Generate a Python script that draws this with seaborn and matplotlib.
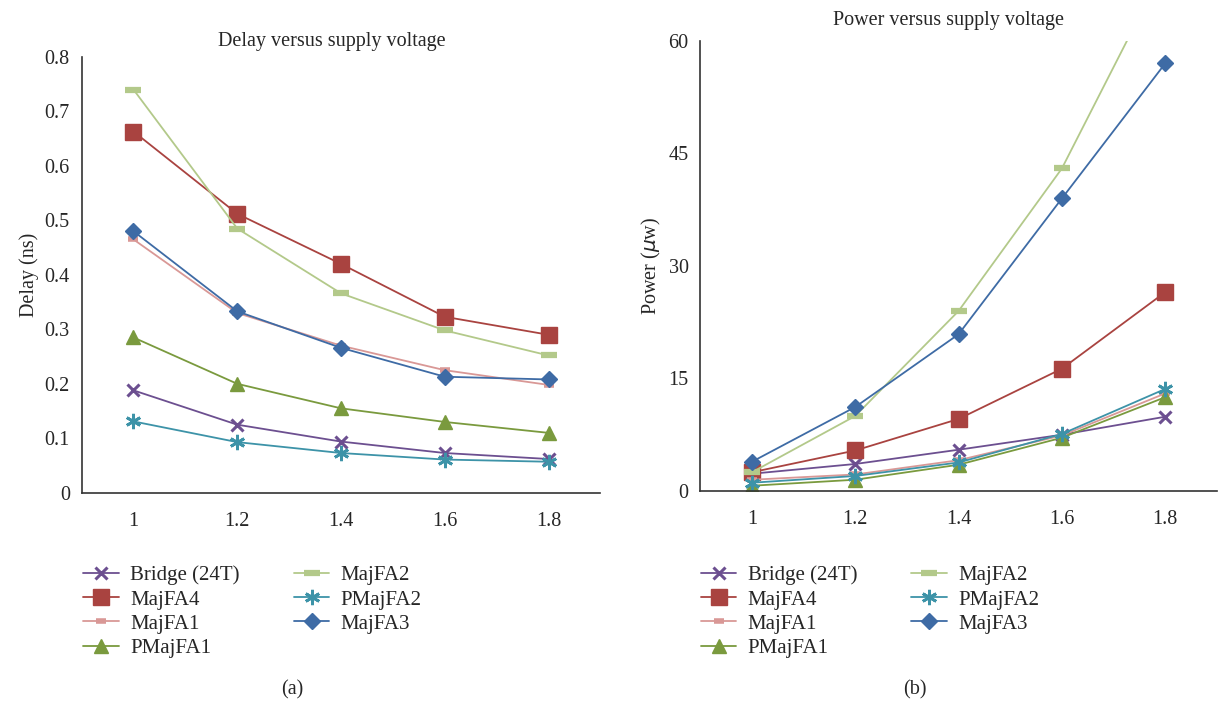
import numpy as np
import pandas as pd
import seaborn as sns
import matplotlib.pyplot as plt

voltages = ["1", "1.2", "1.4", "1.6", "1.8"]
series = ["Bridge (24T)", "MajFA4", "MajFA1", "PMajFA1", "MajFA2", "PMajFA2", "MajFA3"]

delay_bridge = [0.188, 0.125, 0.094, 0.073, 0.062]
delay_majfa4 = [0.663, 0.512, 0.420, 0.323, 0.290]
delay_majfa1 = [0.465, 0.330, 0.270, 0.225, 0.198]
delay_pmajfa1 = [0.285, 0.200, 0.155, 0.130, 0.110]
delay_majfa2 = [0.740, 0.485, 0.366, 0.298, 0.252]
delay_pmajfa2 = [0.131, 0.093, 0.073, 0.061, 0.057]
delay_majfa3 = [0.480, 0.333, 0.266, 0.213, 0.208]

power_bridge = [2.3, 3.6, 5.5, 7.5, 9.9]
power_majfa4 = [2.5, 5.4, 9.6, 16.3, 26.5]
power_majfa1 = [1.5, 2.2, 4.1, 7.4, 13.0]
power_pmajfa1 = [0.7, 1.5, 3.5, 7.1, 12.5]
power_majfa2 = [2.5, 10.0, 24.0, 43.0, 70.0]
power_pmajfa2 = [1.1, 2.0, 3.8, 7.6, 13.6]
power_majfa3 = [3.9, 11.2, 20.9, 39.0, 57.0]

colors = ["#6C4F90", "#A94340", "#D99896", "#7A9A3E", "#B3C98A", "#3D93A8", "#3E6BA5"]
markers = ["x", "s", "_", "^", "_", (6, 2, 0), "D"]
msizes = [9, 11, 7, 10, 11, 11, 8]
mews = [2.2, 1, 4, 1, 4.5, 2.0, 1]

sns.set_style("white")
plt.rcParams["font.family"] = ["Liberation Serif", "DejaVu Serif"]
FS = 14.5


def long_df(cols):
    rows = []
    for name, vals in zip(series, cols):
        for i, v in enumerate(vals):
            rows.append({"pos": i, "value": v, "series": name})
    return pd.DataFrame(rows)


delay = long_df([delay_bridge, delay_majfa4, delay_majfa1, delay_pmajfa1,
                 delay_majfa2, delay_pmajfa2, delay_majfa3])
power = long_df([power_bridge, power_majfa4, power_majfa1, power_pmajfa1,
                 power_majfa2, power_pmajfa2, power_majfa3])

fig = plt.figure(figsize=(12.18, 7.02), dpi=100)
ax1 = fig.add_axes([0.067, 0.298, 0.426, 0.621])
ax2 = fig.add_axes([0.575, 0.3006, 0.424, 0.641])


def draw(ax, df, ylim, yticks, ylabel, title, title_x, title_y):
    for name, c, m, ms, mew in zip(series, colors, markers, msizes, mews):
        sub = df[df["series"] == name]
        sns.lineplot(data=sub, x="pos", y="value", ax=ax, color=c, marker=m,
                     markersize=ms, markeredgewidth=mew, markeredgecolor=c,
                     linewidth=1.3, label=name)
    ax.set_xlim(-0.5, 4.5)
    ax.set_ylim(*ylim)
    ax.set_yticks(yticks)
    ax.set_xticks(range(5))
    ax.set_xticklabels(voltages)
    ax.set_xticks(np.arange(-0.5, 4.6, 1), minor=True)
    ax.tick_params(axis="x", which="major", length=0, labelsize=FS, pad=14)
    ax.tick_params(axis="x", which="minor", length=6, width=1, direction="out", color="#333333")
    ax.tick_params(axis="y", length=5, width=1, direction="out", labelsize=FS, color="#333333")
    ax.set_xlabel("")
    ax.set_ylabel(ylabel, fontsize=FS)
    for s in ["top", "right"]:
        ax.spines[s].set_visible(False)
    for s in ["left", "bottom"]:
        ax.spines[s].set_color("#333333")
        ax.spines[s].set_linewidth(1.2)
    ax.legend_.remove()
    ax.text(title_x, title_y, title, transform=ax.transAxes, ha="center", fontsize=FS)


draw(ax1, delay, (0, 0.8), np.arange(0, 0.81, 0.1), "Delay (ns)",
     "Delay versus supply voltage", 0.483, 1.025)
ax1.set_yticklabels(["0"] + [f"{v:.1f}" for v in np.arange(0.1, 0.81, 0.1)])
draw(ax2, power, (0, 60), [0, 15, 30, 45, 60], r"Power ($\mu$w)",
     "Power versus supply voltage", 0.48, 1.035)

for ax, x0 in [(ax1, 0.053), (ax2, 0.560)]:
    h, l = ax.get_legend_handles_labels()
    fig.legend(h, l, loc="upper left", bbox_to_anchor=(x0, 0.221), ncol=2,
               frameon=False, fontsize=FS + 0.5, handlelength=1.7, columnspacing=2.6,
               labelspacing=0.22, handletextpad=0.55)

fig.text(0.240, 0.010, "(a)", fontsize=FS, ha="center")
fig.text(0.751, 0.010, "(b)", fontsize=FS, ha="center")

fig.savefig("out.png", dpi=100)
